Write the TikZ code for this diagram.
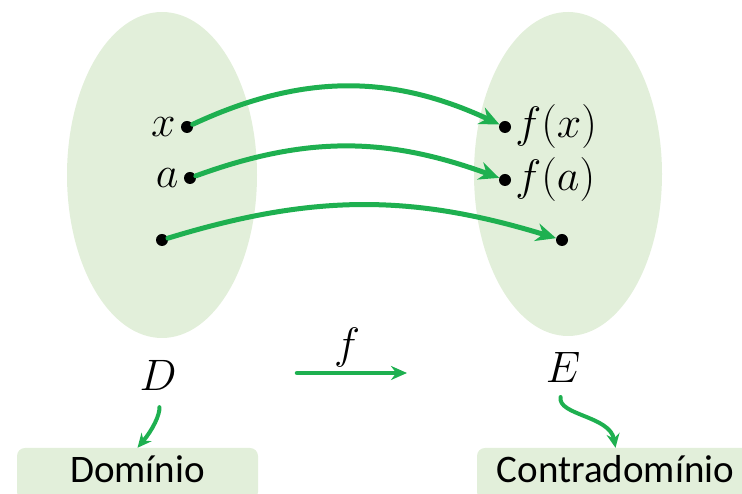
\RequirePackage{fix-cm}
\documentclass[tikz,border=0pt]{standalone}
\usepackage{fontspec}
\setsansfont{Carlito}
\usetikzlibrary{shapes.geometric,arrows.meta,positioning}
\definecolor{setgreen}{RGB}{226,239,218}
\definecolor{mapgreen}{RGB}{30,176,80}
\begin{document}
\begin{tikzpicture}[x=1pt,y=1pt,line cap=round,line join=round,
  dot/.style={circle,fill=black,inner sep=0pt,minimum size=12pt},
  setshape/.style={ellipse,fill=setgreen,inner sep=0pt},
  maparrow/.style={draw=mapgreen,line width=5pt,-{Stealth[length=20pt,width=18pt]}},
  smallarrow/.style={draw=mapgreen,line width=4pt,-{Stealth[length=14pt,width=13pt]}},
  lbl/.style={font=\fontsize{44}{48}\selectfont,inner sep=1pt},
  namebox/.style={fill=setgreen,rounded corners=8pt,font=\sffamily\fontsize{39}{44}\selectfont,
    text height=34.5pt,text depth=17.5pt,inner ysep=0pt}]
  \useasboundingbox (0,0) rectangle (742,494);
  % the two sets
  \node[setshape,minimum width=190,minimum height=326] (dom) at (162,319) {};
  \node[setshape,minimum width=188,minimum height=324] (cod) at (568,320) {};
  % elements
  \node[dot] (px) at (187,367) {};
  \node[dot] (pa) at (190,316) {};
  \node[dot] (p0) at (162,254) {};
  \node[dot] (qx) at (505,367) {};
  \node[dot] (qa) at (505,314) {};
  \node[dot] (q0) at (562,254) {};
  \node[lbl,left=4pt of px] (xlab) {$x$};
  \node[lbl,left=4pt of pa] (alab) {$a$};
  \node[lbl,right=3pt of qx] (fxlab) {$f(x)$};
  \node[lbl,right=3pt of qa] (falab) {$f(a)$};
  % mapping
  \draw[maparrow] (px) to[out=25,in=155] (qx);
  \draw[maparrow] (pa) to[out=20,in=160] (qa);
  \draw[maparrow] (p0) to[out=17,in=163] (q0);
  % names of the sets
  \node[lbl] (dlab) at (158,119) {$D$};
  \node[lbl] (elab) at (563,127) {$E$};
  \node[lbl] (flab) at (347,146) {$f$};
  \coordinate (fstart) at (297,121);
  \coordinate (fend) at (407,121);
  \draw[draw=mapgreen,line width=4.5pt,-{Stealth[length=16pt,width=14pt]}] (fstart) -- (fend);
  % boxes
  \node[namebox,minimum width=241] (dombox) at (137.5,20) {Domínio};
  \node[namebox,minimum width=277] (codbox) at (615.5,20) {Contradomínio};
  \draw[smallarrow,shorten <=16pt] (dlab.south) to[out=-85,in=50] (dombox.north);
  \draw[smallarrow,shorten <=14pt] (elab.south) to[out=-100,in=100] (codbox.north);
\end{tikzpicture}
\end{document}
